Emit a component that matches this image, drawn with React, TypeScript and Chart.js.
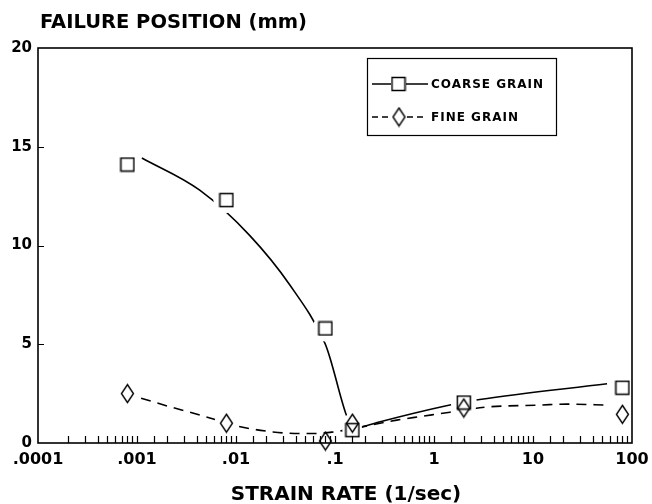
import React, { useEffect, useRef } from 'react';
import { Chart, registerables } from 'chart.js';

Chart.register(...registerables);

// ---- data ----
const decadeValues = [0.0001, 0.001, 0.01, 0.1, 1, 10, 100];
const decadeLabels = ['.0001', '.001', '.01', '.1', '1', '10', '100'];
const yMin = 0;
const yMax = 20;
const yStep = 5;

const seriesNames = ['COARSE GRAIN', 'FINE GRAIN'];
const yTitle = 'FAILURE POSITION (mm)';
const xTitle = 'STRAIN RATE (1/sec)';

// measured points
const coarseX = [0.0008, 0.008, 0.08, 0.15, 2, 80];
const coarseY = [14.1, 12.3, 5.8, 0.65, 2.05, 2.8];
const fineX = [0.0008, 0.008, 0.08, 0.15, 2, 80];
const fineY = [2.5, 1.0, 0.1, 1.0, 1.77, 1.45];

// hand-drawn fit curves
const coarseFitX = [0.00112, 0.0043, 0.0138, 0.035, 0.079, 0.159, 0.215, 0.28, 1.3, 2.9, 56];
const coarseFitY = [14.43, 12.8, 10.5, 8.0, 5.06, 0.76, 0.9, 1.06, 1.87, 2.2, 3.0];
const fineFitX = [0.0011, 0.0022, 0.0043, 0.0105, 0.0236, 0.044, 0.06, 0.093, 0.42, 0.78, 1.45, 3.4, 11.8, 22, 56];
const fineFitY = [2.27, 1.82, 1.42, 0.85, 0.56, 0.48, 0.48, 0.55, 1.16, 1.36, 1.56, 1.82, 1.92, 1.97, 1.92];

// ---- styling ----
const INK = '#000000';
const FONT = '"DejaVu Sans", "Liberation Sans", Arial, sans-serif';
const coarseHalo = [14, 13, 13, 10, 13, 13];
const fineHalo = [12, 12, 6, 10, 12, 12];

const toPts = (xs: number[], ys: number[]) => xs.map((x, i) => ({ x, y: ys[i] }));

function makeSquare(): HTMLCanvasElement {
  const c = document.createElement('canvas');
  c.width = 16;
  c.height = 16;
  const g = c.getContext('2d')!;
  g.strokeStyle = INK;
  g.lineWidth = 1.5;
  g.strokeRect(1.5, 1.5, 13, 13);
  return c;
}

function makeDiamond(): HTMLCanvasElement {
  const c = document.createElement('canvas');
  c.width = 15;
  c.height = 21;
  const g = c.getContext('2d')!;
  g.strokeStyle = INK;
  g.lineWidth = 1.4;
  g.beginPath();
  g.moveTo(7.5, 1.5);
  g.lineTo(13.5, 10.5);
  g.lineTo(7.5, 19.5);
  g.lineTo(1.5, 10.5);
  g.closePath();
  g.stroke();
  return c;
}

export default function App() {
  const ref = useRef<HTMLCanvasElement | null>(null);

  useEffect(() => {
    document.body.style.margin = '0';
    const canvas = ref.current;
    if (!canvas) return;
    const sq = makeSquare();
    const di = makeDiamond();

    const framePlugin = {
      id: 'frameAndText',
      afterDraw(chart: any) {
        const { ctx, chartArea: a } = chart;
        const xs = chart.scales.x;
        const ys = chart.scales.y;
        ctx.save();
        // frame
        ctx.strokeStyle = INK;
        ctx.lineWidth = 1.6;
        ctx.strokeRect(a.left, a.top, a.right - a.left, a.bottom - a.top);
        // inward x ticks
        ctx.lineWidth = 1.2;
        ctx.beginPath();
        for (const t of xs.ticks) {
          const px = Math.round(xs.getPixelForValue(t.value)) + 0.5;
          if (px < a.left + 1 || px > a.right - 1) continue;
          ctx.moveTo(px, a.bottom);
          ctx.lineTo(px, a.bottom - 7);
        }
        // inward y ticks
        for (const t of ys.ticks) {
          const py = Math.round(ys.getPixelForValue(t.value)) + 0.5;
          if (py < a.top + 1 || py > a.bottom - 1) continue;
          ctx.moveTo(a.left, py);
          ctx.lineTo(a.left + 6, py);
        }
        ctx.stroke();

        // axis titles
        ctx.fillStyle = INK;
        ctx.textBaseline = 'alphabetic';
        ctx.textAlign = 'left';
        ctx.font = `bold 19.5px ${FONT}`;
        ctx.fillText(yTitle, 40, 28);
        ctx.textAlign = 'center';
        ctx.font = `bold 20px ${FONT}`;
        ctx.fillText(xTitle, 346, 500);

        // legend box
        const L = 367.5, T = 58.5, W = 189, H = 77;
        ctx.fillStyle = '#fff';
        ctx.fillRect(L, T, W, H);
        ctx.strokeStyle = INK;
        ctx.lineWidth = 1.2;
        ctx.strokeRect(L, T, W, H);
        const rows = [84, 117];
        ctx.lineWidth = 1.5;
        // coarse sample
        ctx.beginPath();
        ctx.moveTo(372, rows[0]);
        ctx.lineTo(391, rows[0]);
        ctx.moveTo(406, rows[0]);
        ctx.lineTo(428, rows[0]);
        ctx.stroke();
        ctx.drawImage(sq, 398.5 - 8, rows[0] - 8);
        // fine sample
        ctx.setLineDash([6, 4]);
        ctx.beginPath();
        ctx.moveTo(372, rows[1]);
        ctx.lineTo(390, rows[1]);
        ctx.moveTo(407, rows[1]);
        ctx.lineTo(425, rows[1]);
        ctx.stroke();
        ctx.setLineDash([]);
        ctx.drawImage(di, 399 - 7.5, rows[1] - 10.5);
        // legend text
        ctx.fillStyle = INK;
        ctx.textAlign = 'left';
        ctx.textBaseline = 'middle';
        ctx.font = `bold 12px ${FONT}`;
        try { (ctx as any).letterSpacing = '1px'; } catch (e) {}
        ctx.fillText(seriesNames[0], 431, rows[0] + 1);
        ctx.fillText(seriesNames[1], 431, rows[1] + 1);
        ctx.restore();
      },
    };

    const labelFor = (v: number) => {
      const i = decadeValues.findIndex((d) => Math.abs(Math.log10(d) - Math.log10(v)) < 1e-6);
      return i >= 0 ? decadeLabels[i] : '';
    };

    const chart = new Chart(canvas, {
      type: 'scatter',
      data: {
        datasets: [
          {
            type: 'line',
            label: 'coarse fit',
            data: toPts(coarseFitX, coarseFitY),
            borderColor: INK,
            borderWidth: 1.6,
            pointRadius: 0,
            cubicInterpolationMode: 'monotone',
            fill: false,
            order: 5,
          } as any,
          {
            type: 'line',
            label: 'fine fit',
            data: toPts(fineFitX, fineFitY),
            borderColor: INK,
            borderWidth: 1.6,
            borderDash: [10, 7],
            pointRadius: 0,
            cubicInterpolationMode: 'monotone',
            fill: false,
            order: 4,
          } as any,
          {
            label: 'halo',
            data: [...toPts(coarseX, coarseY), ...toPts(fineX, fineY)],
            pointStyle: 'circle',
            pointRadius: [...coarseHalo, ...fineHalo],
            backgroundColor: '#ffffff',
            borderWidth: 0,
            order: 3,
          } as any,
          {
            label: seriesNames[0],
            data: toPts(coarseX, coarseY),
            pointStyle: sq,
            pointRadius: 6,
            clip: false,
            order: 2,
          } as any,
          {
            label: seriesNames[1],
            data: toPts(fineX, fineY),
            pointStyle: di,
            pointRadius: 6,
            clip: false,
            order: 1,
          } as any,
        ],
      },
      options: {
        animation: false,
        responsive: false,
        events: [],
        layout: { padding: { left: 0, right: 20, top: 48, bottom: 0 } },
        plugins: {
          legend: { display: false },
          tooltip: { enabled: false },
          title: { display: false },
        },
        scales: {
          x: {
            type: 'logarithmic',
            min: decadeValues[0],
            max: decadeValues[decadeValues.length - 1],
            position: 'bottom',
            grid: { display: false, drawTicks: false },
            border: { display: false },
            ticks: {
              autoSkip: false,
              maxRotation: 0,
              minRotation: 0,
              padding: 7,
              color: INK,
              font: { family: FONT, weight: 'bold', size: 16 },
              callback: (v: any) => labelFor(Number(v)),
            },
            afterFit: (s: any) => {
              s.height = 61;
              s.paddingLeft = 0;
              s.paddingRight = 0;
            },
          },
          y: {
            type: 'linear',
            min: yMin,
            max: yMax,
            grid: { display: false, drawTicks: false },
            border: { display: false },
            ticks: {
              stepSize: yStep,
              padding: 6,
              color: INK,
              font: { family: FONT, weight: 'bold', size: 15 },
            },
            afterFit: (s: any) => {
              s.width = 38;
              s.paddingTop = 0;
              s.paddingBottom = 0;
            },
          },
        },
      } as any,
      plugins: [framePlugin],
    });
    return () => chart.destroy();
  }, []);

  return (
    <div style={{ position: 'absolute', left: 0, top: 0, width: 652, height: 504, background: '#fff' }}>
      <canvas ref={ref} width={652} height={504} style={{ display: 'block' }} />
    </div>
  );
}
